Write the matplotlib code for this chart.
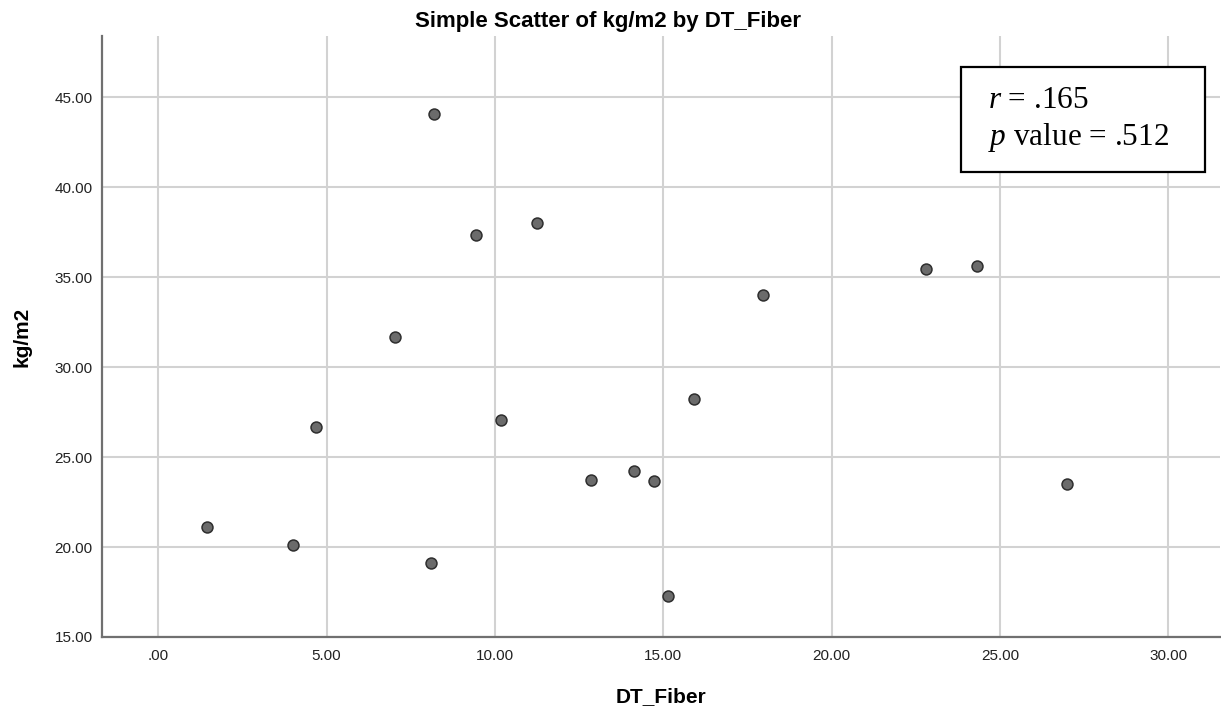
import matplotlib
matplotlib.use("Agg")
import matplotlib.pyplot as plt
from matplotlib.ticker import FuncFormatter, MultipleLocator
from matplotlib.patches import Rectangle

plt.rcParams['font.family'] = ['Liberation Sans', 'DejaVu Sans']
plt.rcParams['mathtext.fontset'] = 'custom'
plt.rcParams['mathtext.it'] = 'Liberation Serif:italic'
plt.rcParams['mathtext.rm'] = 'Liberation Serif'

# Data
dt_fiber = [1.44, 4.01, 4.70, 7.02, 8.09, 8.19, 9.43, 10.18, 11.24,
            12.86, 14.12, 14.72, 15.13, 15.92, 17.96, 22.80, 24.32, 26.99]
kg_m2 = [21.11, 20.13, 26.67, 31.67, 19.13, 44.07, 37.33, 27.07, 37.98,
         23.72, 24.24, 23.65, 17.26, 28.20, 33.98, 35.46, 35.59, 23.48]
x_ticks = [0, 5, 10, 15, 20, 25, 30]
y_ticks = [15, 20, 25, 30, 35, 40, 45]
title = "Simple Scatter of kg/m2 by DT_Fiber"
x_label = "DT_Fiber"
y_label = "kg/m2"
stats_lines = [r"$\mathit{r}$ = .165", r"$\mathit{p}$ value = .512"]

W, H, DPI = 1221, 717, 100
fig = plt.figure(figsize=(W / DPI, H / DPI), dpi=DPI)
left, right, bottom, top = 102.3, 1220.0, 637.0, 36.0
ax = fig.add_axes([left / W, (H - bottom) / H, (right - left) / W, (bottom - top) / H])

ax.scatter(dt_fiber, kg_m2, s=62, facecolor='#6b6b6b', edgecolor='#2e2e2e',
           linewidth=1.1, zorder=3)

ax.set_xlim(-1.66, 31.53)
ax.set_ylim(15, 48.39)
ax.set_xticks(x_ticks)
ax.set_yticks(y_ticks)

def fmt(v, pos):
    s = f"{v:.2f}"
    if s.startswith("0"):
        s = s[1:]
    return s

ax.xaxis.set_major_formatter(FuncFormatter(fmt))
ax.yaxis.set_major_formatter(FuncFormatter(fmt))
ax.tick_params(axis='both', length=0, labelsize=11, colors='#222222')
ax.tick_params(axis='x', pad=9)
ax.tick_params(axis='y', pad=7)

ax.grid(True, color='#d2d2d2', linewidth=1.5, zorder=0)
ax.set_axisbelow(True)
for s in ['top', 'right']:
    ax.spines[s].set_visible(False)
for s in ['left', 'bottom']:
    ax.spines[s].set_color('#707070')
    ax.spines[s].set_linewidth(1.6)

ax.set_xlabel(x_label, fontsize=15, fontweight='bold')
ax.xaxis.label.set_va('center')
ax.xaxis.set_label_coords(0.5, (bottom - 697) / (bottom - top))
ax.set_ylabel(y_label, fontsize=15, fontweight='bold')
ax.yaxis.label.set_va('center')
ax.yaxis.set_label_coords((22 - left) / (right - left), 0.5)

fig.text(608 / W, 1 - 22 / H, title, ha='center', va='center',
         fontsize=16, fontweight='bold')

# statistics box
bx0, bx1, by0, by1 = 960.7, 1205.0, 66.7, 171.7
aw, ah = right - left, bottom - top
rect = Rectangle(((bx0 - left) / aw, (bottom - by1) / ah), (bx1 - bx0) / aw, (by1 - by0) / ah,
                 transform=ax.transAxes, facecolor='white', edgecolor='black',
                 linewidth=1.6, zorder=5, clip_on=False)
ax.add_patch(rect)
for i, (line, yc) in enumerate(zip(stats_lines, [100, 138])):
    ax.text((988 - left) / aw, (bottom - yc) / ah, line, transform=ax.transAxes,
            ha='left', va='center', fontsize=22.5, family='Liberation Serif', zorder=6)

fig.savefig("out.png", dpi=DPI)
